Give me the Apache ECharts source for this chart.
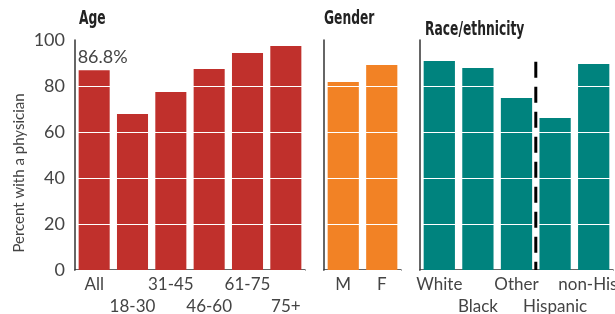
<!DOCTYPE html>
<html><head><meta charset="utf-8">
<script src="https://cdn.jsdelivr.net/npm/echarts@6/dist/echarts.min.js"></script>
<style>html,body{margin:0;padding:0;background:#fff}#c{width:615px;height:314px}</style>
</head><body><div id="c"></div>
<script>
const ageCats = ['All','18-30','31-45','46-60','61-75','75+'];
const ageVals = [86.8, 67.8, 77.4, 87.4, 94.3, 97.4];
const genderCats = ['M','F'];
const genderVals = [81.7, 89.1];
const raceCats = ['White','Black','Other','Hispanic','non-Hispanic'];
const raceVals = [90.9, 87.8, 74.8, 66.1, 89.6];
const yTicks = [0, 20, 40, 60, 80, 100];
const dividerLine = [[2.5, 90.5], [2.5, 0]];
const panelTitles = ['Age', 'Gender', 'Race/ethnicity'];

const FONT = 'Lato';
const TITLE_FONT = "'DejaVu Sans Condensed', 'DejaVu Sans', sans-serif";
const TXT = '#444';
const AXIS = '#333';

function xAx(idx, cats, stagger, lastPad) {
  return {
    type: 'category', gridIndex: idx,
    data: cats.map((c, i) => (lastPad && i === cats.length - 1) ? {value: c, textStyle: {padding: [0, 0, 0, lastPad]}} : c),
    axisLine: {lineStyle: {color: AXIS, width: 1.5}},
    axisTick: {show: false},
    axisLabel: {
      color: TXT, fontFamily: FONT, fontSize: 17, margin: 4, lineHeight: 22,
      interval: 0, hideOverlap: false,
      formatter: (v, i) => (stagger && i % 2 === 1 ? '\n' + v : v)
    }
  };
}
function yAx(idx, showLabels) {
  return {
    type: 'value', gridIndex: idx, min: yTicks[0], max: yTicks[yTicks.length - 1], interval: 20,
    z: 5,
    axisLine: {show: true, onZero: false, lineStyle: {color: AXIS, width: 1.5}},
    axisTick: {show: false},
    splitLine: {show: true, lineStyle: {color: '#fff', width: 1.2}},
    axisLabel: {show: showLabels, color: TXT, fontFamily: FONT, fontSize: 18, margin: 10},
    name: showLabels ? 'Percent with a physician' : '',
    nameLocation: 'middle', nameGap: 48,
    nameTextStyle: {color: TXT, fontFamily: FONT, fontSize: 15, padding: [0, 36, 0, 0]}
  };
}
function titleText(text, x, y) {
  return {type: 'text', x: x, y: y, scaleX: 0.72, scaleY: 1, z: 20,
    style: {text: text, font: 'bold 19px ' + TITLE_FONT, fill: '#222', textVerticalAlign: 'top', textAlign: 'left'}};
}

const chart = echarts.init(document.getElementById('c'), null, {renderer: 'canvas'});
chart.setOption({
  animation: false,
  graphic: [
    titleText(panelTitles[0], 79, 10),
    titleText(panelTitles[1], 324, 10),
    titleText(panelTitles[2], 425, 21)
  ],
  grid: [
    {left: 75, width: 230, top: 40, bottom: 44, outerBoundsMode: 'none', containLabel: false},
    {left: 324, width: 77, top: 40, bottom: 44, outerBoundsMode: 'none', containLabel: false},
    {left: 420, width: 193, top: 40, bottom: 44, outerBoundsMode: 'none', containLabel: false}
  ],
  xAxis: [
    xAx(0, ageCats, true), xAx(1, genderCats, false), xAx(2, raceCats, true, 28),
    {type: 'value', gridIndex: 2, min: -0.5, max: 4.5, show: false}
  ],
  yAxis: [yAx(0, true), yAx(1, false), yAx(2, false)],
  series: [
    {type: 'bar', xAxisIndex: 0, yAxisIndex: 0, barCategoryGap: '19%', itemStyle: {color: '#C0302C'},
     data: ageVals.map((v, i) => i === 0 ? {value: v, label: {show: true, position: [-1, -4], align: 'left', verticalAlign: 'bottom', formatter: '{c}%', color: TXT, fontFamily: FONT, fontSize: 18}} : v)},
    {type: 'bar', xAxisIndex: 1, yAxisIndex: 1, barCategoryGap: '19%', itemStyle: {color: '#F28225'}, data: genderVals},
    {type: 'bar', xAxisIndex: 2, yAxisIndex: 2, barCategoryGap: '19%', itemStyle: {color: '#00837E'}, data: raceVals},
    {type: 'line', xAxisIndex: 3, yAxisIndex: 2, data: dividerLine, symbol: 'none', z: 10,
     lineStyle: {color: '#000', width: 3, type: [16, 9]}}
  ]
});
</script></body></html>
